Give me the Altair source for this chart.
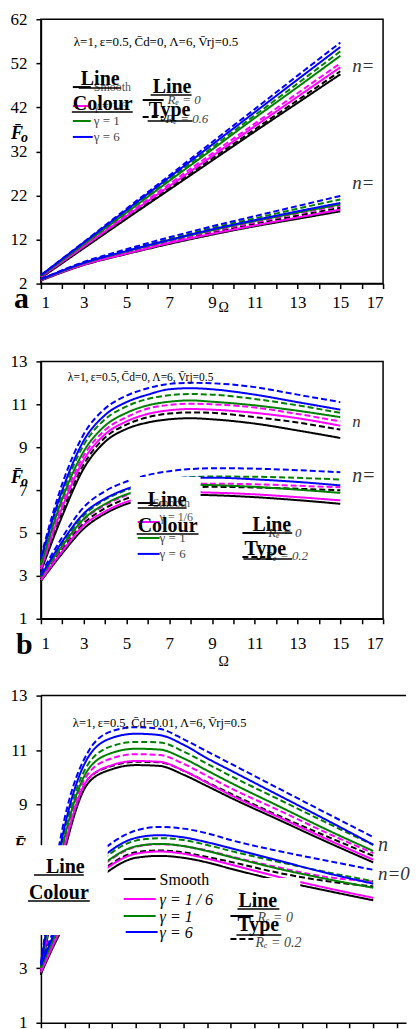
import altair as alt
import pandas as pd

FONT = "Liberation Serif"
COLOURS = ["Smooth", "g16", "g1", "g6"]
COLOUR_RANGE = ["#000000", "#ff00ff", "#008000", "#0000ff"]
TYPES = ["solid", "dash"]

# ---------------- panel a ----------------
XA = [1, 3, 5, 7, 9, 11, 13, 15]
A_HI_BLUE_DASH = [3.9, 11.4, 19.0, 26.5, 34.1, 41.6, 49.2, 56.7]
A_HI_BLUE_SOLID = [3.9, 11.3, 18.7, 26.1, 33.5, 40.9, 48.3, 55.7]
A_HI_GREEN_DASH = [3.8, 11.1, 18.4, 25.7, 32.9, 40.2, 47.4, 54.7]
A_HI_GREEN_SOLID = [3.7, 10.9, 18.1, 25.3, 32.4, 39.6, 46.6, 53.7]
A_HI_MAG_DASH = [3.6, 10.6, 17.6, 24.6, 31.5, 38.3, 45.2, 52.0]
A_HI_MAG_SOLID = [3.5, 10.4, 17.3, 24.1, 30.9, 37.7, 44.4, 51.1]
A_HI_BLK_DASH = [3.4, 10.2, 17.0, 23.7, 30.4, 37.0, 43.6, 50.2]
A_HI_BLK_SOLID = [3.3, 10.0, 16.7, 23.3, 29.9, 36.5, 43.0, 49.5]

A_LO_BLUE_DASH = [3.0, 6.9, 9.8, 12.5, 15.0, 17.3, 19.6, 21.9]
A_LO_BLUE_SOLID = [3.0, 6.7, 9.4, 11.9, 14.3, 16.4, 18.4, 20.3]
A_LO_GREEN_DASH = [3.0, 6.7, 9.5, 12.1, 14.6, 16.8, 19.0, 21.1]
A_LO_GREEN_SOLID = [2.9, 6.6, 9.3, 11.8, 14.1, 16.2, 18.1, 20.0]
A_LO_MAG_DASH = [2.9, 6.5, 9.2, 11.6, 13.9, 15.9, 17.9, 19.7]
A_LO_MAG_SOLID = [2.8, 6.3, 8.8, 11.2, 13.3, 15.2, 17.0, 18.8]
A_LO_BLK_DASH = [2.8, 6.4, 9.0, 11.4, 13.6, 15.6, 17.4, 19.2]
A_LO_BLK_SOLID = [2.7, 6.2, 8.7, 11.0, 13.1, 15.0, 16.7, 18.4]

# ---------------- panel b ----------------
XB = [1, 2, 3, 4, 5, 6, 7, 8, 9, 11, 13, 15]
B_HI_BLUE_DASH = [3.9, 7.3, 9.6, 10.8, 11.4, 11.75, 11.95, 12.0, 11.98, 11.8, 11.45, 11.1]
B_HI_BLUE_SOLID = [3.8, 7.0, 9.3, 10.5, 11.1, 11.45, 11.7, 11.75, 11.7, 11.45, 11.1, 10.75]
B_HI_GREEN_DASH = [3.6, 6.8, 9.1, 10.3, 10.9, 11.25, 11.42, 11.48, 11.45, 11.25, 10.95, 10.6]
B_HI_GREEN_SOLID = [3.5, 6.6, 8.8, 10.0, 10.6, 10.95, 11.12, 11.18, 11.12, 10.95, 10.7, 10.4]
B_HI_MAG_DASH = [3.4, 6.4, 8.6, 9.8, 10.4, 10.8, 10.97, 11.03, 11.0, 10.85, 10.55, 10.2]
B_HI_MAG_SOLID = [3.3, 6.2, 8.4, 9.6, 10.2, 10.55, 10.72, 10.78, 10.75, 10.6, 10.35, 10.0]
B_HI_BLK_DASH = [3.3, 6.0, 8.2, 9.45, 10.05, 10.4, 10.57, 10.62, 10.6, 10.4, 10.15, 9.82]
B_HI_BLK_SOLID = [3.2, 5.8, 8.0, 9.25, 9.85, 10.15, 10.3, 10.35, 10.3, 10.1, 9.78, 9.43]

B_LO_BLUE_DASH = [3.1, 4.8, 6.2, 6.95, 7.4, 7.7, 7.88, 7.98, 8.02, 8.0, 7.93, 7.83]
B_LO_BLUE_SOLID = [3.0, 4.6, 5.9, 6.6, 7.05, 7.35, 7.52, 7.58, 7.58, 7.5, 7.38, 7.22]
B_LO_GREEN_DASH = [3.0, 4.5, 5.8, 6.55, 7.0, 7.3, 7.5, 7.6, 7.63, 7.62, 7.57, 7.49]
B_LO_GREEN_SOLID = [2.95, 4.4, 5.65, 6.35, 6.8, 7.05, 7.2, 7.25, 7.23, 7.15, 7.02, 6.87]
B_LO_MAG_DASH = [2.9, 4.35, 5.6, 6.3, 6.75, 7.05, 7.22, 7.3, 7.3, 7.27, 7.2, 7.13]
B_LO_MAG_SOLID = [2.8, 4.15, 5.35, 6.0, 6.45, 6.7, 6.85, 6.9, 6.88, 6.8, 6.67, 6.52]
B_LO_BLK_DASH = [2.85, 4.25, 5.45, 6.15, 6.6, 6.9, 7.07, 7.14, 7.15, 7.12, 7.06, 6.99]
B_LO_BLK_SOLID = [2.75, 4.05, 5.2, 5.9, 6.35, 6.6, 6.74, 6.78, 6.76, 6.67, 6.53, 6.36]

# ---------------- panel c ----------------
XC = [1, 2, 3, 4, 5, 6, 7, 8, 9, 11, 13, 15]
C_HI_BLUE_DASH = [3.2, 8.5, 10.95, 11.7, 11.84, 11.78, 11.4, 10.95, 10.5, 9.6, 8.7, 7.81]
C_HI_BLUE_SOLID = [3.1, 8.2, 10.75, 11.45, 11.6, 11.55, 11.2, 10.7, 10.25, 9.35, 8.45, 7.53]
C_HI_GREEN_DASH = [3.05, 8.0, 10.5, 11.15, 11.3, 11.28, 10.95, 10.5, 10.05, 9.2, 8.35, 7.52]
C_HI_GREEN_SOLID = [3.0, 7.8, 10.3, 10.9, 11.05, 11.02, 10.7, 10.25, 9.8, 8.95, 8.1, 7.3]
C_HI_MAG_DASH = [2.95, 7.65, 10.15, 10.7, 10.85, 10.82, 10.5, 10.05, 9.6, 8.8, 7.98, 7.22]
C_HI_MAG_SOLID = [2.85, 7.45, 9.95, 10.45, 10.6, 10.57, 10.25, 9.8, 9.35, 8.55, 7.75, 6.98]
C_HI_BLK_DASH = [2.85, 7.4, 9.95, 10.42, 10.57, 10.55, 10.25, 9.82, 9.4, 8.6, 7.85, 7.12]
C_HI_BLK_SOLID = [2.75, 7.3, 9.8, 10.3, 10.45, 10.42, 10.1, 9.68, 9.25, 8.45, 7.65, 6.88]

C_LO_BLUE_DASH = [3.2, 5.3, 6.8, 7.6, 8.05, 8.18, 8.12, 7.95, 7.7, 7.3, 6.95, 6.61]
C_LO_BLUE_SOLID = [3.1, 5.1, 6.55, 7.35, 7.78, 7.88, 7.8, 7.62, 7.4, 6.95, 6.5, 6.1]
C_LO_GREEN_DASH = [3.05, 5.0, 6.45, 7.25, 7.68, 7.77, 7.7, 7.52, 7.3, 6.9, 6.53, 6.19]
C_LO_GREEN_SOLID = [3.0, 4.9, 6.3, 7.05, 7.47, 7.56, 7.48, 7.3, 7.08, 6.65, 6.28, 5.95]
C_LO_MAG_DASH = [2.95, 4.85, 6.25, 7.02, 7.45, 7.55, 7.48, 7.32, 7.1, 6.7, 6.35, 6.18]
C_LO_MAG_SOLID = [2.85, 4.7, 6.05, 6.8, 7.2, 7.28, 7.2, 7.02, 6.8, 6.35, 5.95, 5.58]
C_LO_BLK_DASH = [2.9, 4.75, 6.1, 6.85, 7.25, 7.32, 7.25, 7.08, 6.9, 6.5, 6.2, 6.0]
C_LO_BLK_SOLID = [2.8, 4.6, 5.9, 6.65, 7.05, 7.12, 7.05, 6.88, 6.65, 6.22, 5.85, 5.49]


def build(xs, table):
    rows = []
    for grp, col, typ, vals in table:
        for x, y in zip(xs, vals):
            rows.append({"x": x, "y": y, "colour": col, "ltype": typ,
                         "key": f"{grp}-{col}-{typ}"})
    return pd.DataFrame(rows)


def series(prefix):
    g = globals()
    out = []
    for grp in ["HI", "LO"]:
        for col, name in [("Smooth", "BLK"), ("g16", "MAG"), ("g1", "GREEN"), ("g6", "BLUE")]:
            for typ, tname in [("solid", "SOLID"), ("dash", "DASH")]:
                out.append((grp, col, typ, g[f"{prefix}_{grp}_{name}_{tname}"]))
    return out


DF_A = build(XA, series("A"))
DF_B = build(XB, series("B"))
DF_C = build(XC, series("C"))

ONE = pd.DataFrame({"k": [0]})
ODD = "datum.value % 2 == 1 ? datum.label : ''"
TS = "\u2009"


def T(s, x, y, size=14, weight="normal", style="normal", color="black", align="left"):
    return alt.Chart(ONE).mark_text(
        text=s, font=FONT, fontSize=size, fontWeight=weight, fontStyle=style,
        color=color, align=align, baseline="alphabetic"
    ).encode(x=alt.value(x), y=alt.value(y))


def R(x1, x2, y, color="black", width=2, dash=None):
    kw = dict(color=color, strokeWidth=width)
    if dash:
        kw["strokeDash"] = dash
    return alt.Chart(ONE).mark_rule(**kw).encode(
        x=alt.value(x1), x2=alt.value(x2), y=alt.value(y))


def BOX(x1, x2, y1, y2):
    return alt.Chart(ONE).mark_rect(color="white").encode(
        x=alt.value(x1), x2=alt.value(x2), y=alt.value(y1), y2=alt.value(y2))


def lines(df, xdom, ydom, yvals, xvals, xlabels=True, lpad=8):
    xax = alt.Axis(values=xvals, title=None, labelExpr=ODD, labelPadding=lpad,
                   labels=xlabels)
    yax = alt.Axis(values=yvals, title=None, labelPadding=9)
    return alt.Chart(df).mark_line(strokeWidth=2, interpolate="monotone").encode(
        x=alt.X("x:Q", scale=alt.Scale(domain=xdom, nice=False, zero=False), axis=xax),
        y=alt.Y("y:Q", scale=alt.Scale(domain=ydom, nice=False, zero=False), axis=yax),
        color=alt.Color("colour:N", scale=alt.Scale(domain=COLOURS, range=COLOUR_RANGE), legend=None),
        strokeDash=alt.StrokeDash("ltype:N", scale=alt.Scale(domain=TYPES, range=[[1, 0], [6, 3]]), legend=None),
        detail="key:N",
    )


def params(cd):
    return f"λ=1,{TS}ε=0.5,{TS}C̄d={cd},{TS}Λ=6,{TS}V̄rj=0.5"


BLK, MAG, GRN, BLU = COLOUR_RANGE
NCOL = "#333333"

# ---------------- panel a layers ----------------
pa = alt.layer(
    lines(DF_A, [1, 17], [2, 62], [2, 12, 22, 32, 42, 52, 62], list(range(1, 18)), lpad=6),
    T(params("0"), 33, 27, size=13),
    R(32, 50, 68), T("Smooth", 53, 72, size=12, color="#555555"),
    T("Line", 40, 66, size=20, weight="bold"), R(38, 80, 69, width=1.5),
    R(32, 50, 87, color=MAG), T("γ = 1/6", 53, 91, size=12, color="#555555"),
    T("Colour", 32, 91, size=20, weight="bold"), R(31, 92, 93, width=1.5),
    R(32, 50, 102, color=GRN), T("γ = 1", 53, 106, size=13, color="#444444"),
    R(32, 52, 118, color=BLU), T("γ = 6", 53, 122, size=13, color="#444444"),
    R(102, 123, 81), T("Rₑ = 0", 127, 85, size=13, style="italic", color="#444444"),
    R(102, 123, 98, dash=[6, 3]), T("Rₑ = 0.6", 125, 104, size=13, style="italic", color="#444444"),
    T("Line", 112, 74, size=20, weight="bold"), R(110, 151, 76, width=1.5),
    T("Type", 108, 97, size=20, weight="bold"), R(107, 152, 102, width=1.5),
    T("n=", 312, 53, size=19, style="italic", color=NCOL),
    T("n=", 312, 170, size=19, style="italic", color=NCOL),
    T("a", -27, 289, size=30, weight="bold"),
    T("F̄", -30, 120, size=18, weight="bold", style="italic"),
    T("o", -20, 123, size=14, weight="bold", style="italic"),
    T("Ω", 178, 293, size=14),
).properties(width=343, height=265)

# ---------------- panel b layers ----------------
pb = alt.layer(
    lines(DF_B, [1, 17], [1, 13], [1, 3, 5, 7, 9, 11, 13], list(range(1, 18)), lpad=12),
    BOX(90, 160, 116, 146),
    T(params("0"), 27, 20, size=11.5),
    R(97, 117, 142), T("Smooth", 112, 146, size=12, color="#555555"),
    T("Line", 107, 145, size=20, weight="bold"), R(97, 146, 147, width=1.5),
    R(97, 119, 161, color=MAG), T("γ = 1/6", 119, 160, size=12, color="#555555"),
    T("Colour", 97, 171, size=20, weight="bold"), R(96, 158, 173, width=1.5),
    R(97, 119, 177, color=GRN), T("γ = 1", 119, 181, size=13, color="#444444"),
    R(97, 119, 193, color=BLU), T("γ = 6", 119, 197, size=13, color="#444444"),
    R(202, 225, 172), T("Rₑ = 0", 228, 176, size=13, style="italic", color="#444444"),
    R(202, 225, 196, dash=[6, 3]), T("Rₑ = 0.2", 225, 199, size=13, style="italic", color="#444444"),
    T("Line", 212, 170, size=20, weight="bold"), R(204, 252, 172, width=1.5),
    T("Type", 204, 194, size=20, weight="bold"), R(203, 252, 198, width=1.5),
    T("n", 312, 66, size=17, style="italic", color=NCOL),
    T("n=", 312, 121, size=20, style="italic", color=NCOL),
    T("b", -25, 293, size=30, weight="bold"),
    T("F̄", -30, 122, size=18, weight="bold", style="italic"),
    T("o", -20, 125, size=14, weight="bold", style="italic"),
    T("Ω", 178, 305, size=14),
).properties(width=343, height=258)

# ---------------- panel c layers ----------------
pc = alt.layer(
    lines(DF_C, [1, 16.38], [1, 13], [1, 3, 5, 7, 9, 11, 13], list(range(1, 17)), xlabels=False),
    R(0, 366, 0, width=1.5),
    T("F̄", -27, 156, size=18, weight="bold", style="italic"),
    BOX(-32, 67, 150, 240),
    BOX(67, 260, 183, 265),
    T(params("0.01"), 32, 32, size=12.5),
    T("Line", 5, 178, size=20, weight="bold"), R(-7, 43, 180, width=1.5),
    T("Colour", -12, 204, size=20, weight="bold"), R(-13, 49, 206, width=1.5),
    R(83, 115, 184), T("Smooth", 119, 190, size=16),
    R(83, 115, 204, color=MAG), T("γ = 1 / 6", 119, 210, size=16, style="italic"),
    R(83, 115, 221, color=GRN), T("γ = 1", 119, 227, size=16, style="italic"),
    R(85, 117, 237, color=BLU), T("γ = 6", 119, 243, size=16, style="italic"),
    R(190, 213, 221), T("Rₑ = 0", 217, 227, size=14, style="italic", color="#444444"),
    R(190, 213, 244, dash=[6, 3]), T("Rₑ = 0.2", 215, 252, size=14, style="italic", color="#444444"),
    T("Line", 198, 212, size=20, weight="bold"), R(197, 239, 214, width=1.5),
    T("Type", 197, 236, size=20, weight="bold"), R(196, 241, 240, width=1.5),
    T("n", 338, 156, size=20, style="italic", color=NCOL),
    T("n=0", 338, 185, size=19, style="italic", color=NCOL),
).properties(width=366, height=328, view=alt.ViewBackground(stroke="transparent"))

top = alt.vconcat(pa, pb, spacing=36)
chart = alt.vconcat(top, pc, spacing=16).properties(
    padding={"left": 0, "top": 0, "right": 0, "bottom": 0}
).configure_axis(
    labelFont=FONT, labelFontSize=17, labelColor="black", domainColor="black",
    tickColor="black", domainWidth=1.5, tickWidth=1.5, tickSize=5, grid=False,
).configure_view(stroke="black", strokeWidth=1.5)

chart.save("out.html", embed_options={"renderer": "svg", "actions": False})
